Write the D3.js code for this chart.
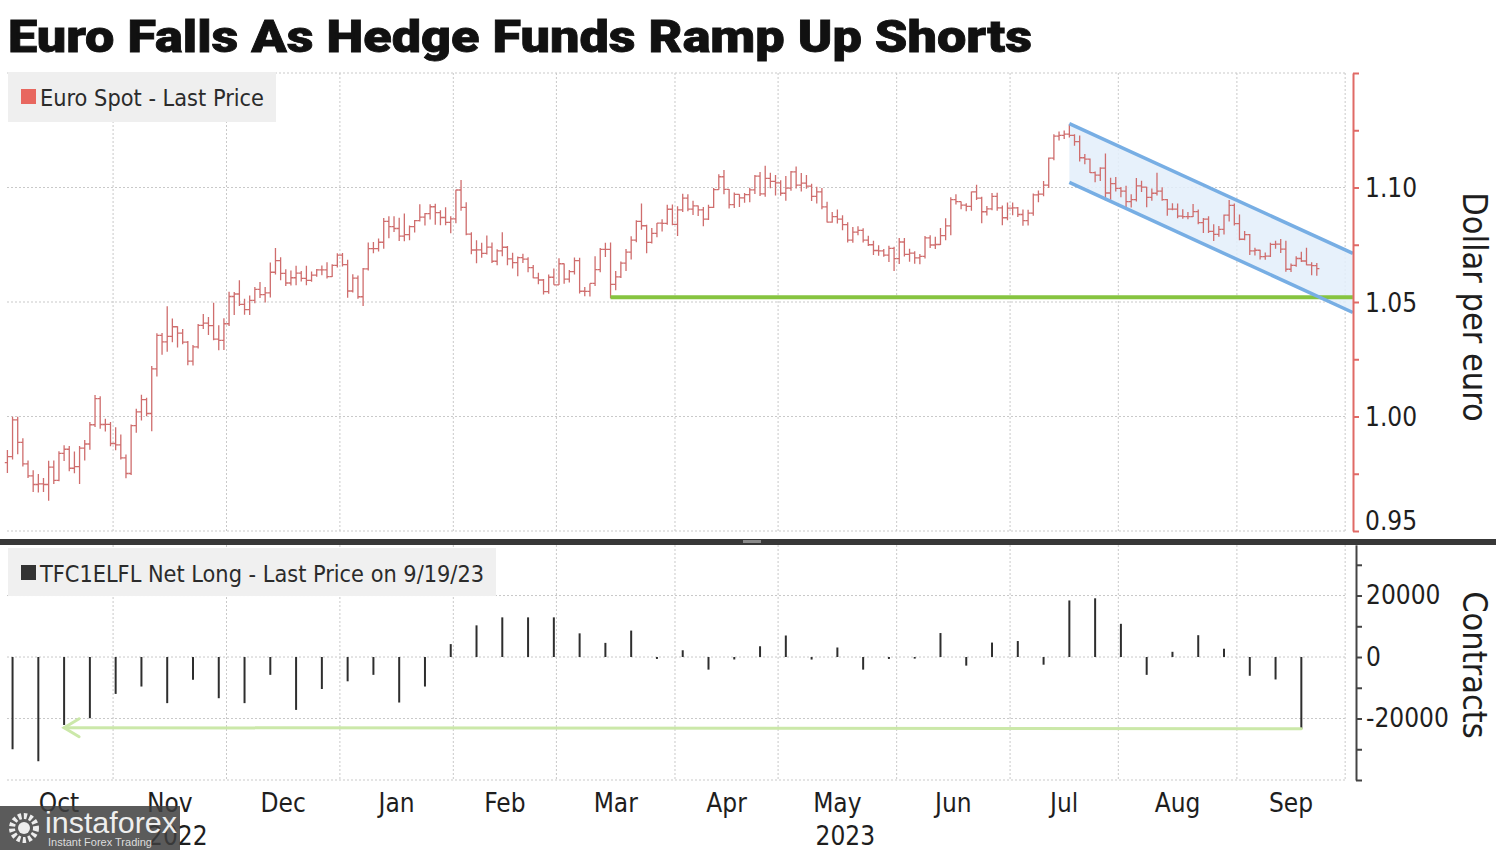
<!DOCTYPE html>
<html><head><meta charset="utf-8">
<script src="https://cdn.jsdelivr.net/npm/d3@7"></script>
<style>body{margin:0;background:#fff}svg{display:block}</style>
</head><body><svg id="c" width="1500" height="850"></svg>
<script>
// ---------------- DATA ----------------
const title = "Euro Falls As Hedge Funds Ramp Up Shorts";
const priceLegend = "Euro Spot - Last Price";
const posLegend = "TFC1ELFL Net Long - Last Price on 9/19/23";
const firstDate = "2022-10-03";   // first trading day (weekdays only)
const firstOpen = 0.9799;

// daily highs / lows / closes, Oct 3 2022 .. Sep 22 2023 (weekdays)
const highs = [
 0.9854,0.9999,0.9999,0.9905,0.9808,0.9765,0.9749,0.9731,0.9807,0.9808,0.9848,0.9875,0.9871,0.9847,0.9871,0.9897,0.9976,1.0094,1.0088,0.9990,0.9976,
 0.9953,0.9921,0.9834,0.9965,1.0034,1.0095,1.0082,1.0221,1.0364,1.0365,1.0481,1.0428,1.0394,1.0382,1.0330,1.0312,1.0404,1.0448,1.0434,1.0497,1.0399,1.0429,
 1.0545,1.0544,1.0595,1.0514,1.0528,1.0566,1.0587,1.0566,1.0673,1.0736,1.0695,1.0643,1.0638,1.0658,1.0635,1.0658,1.0633,1.0644,1.0659,1.0674,1.0665,1.0713,
 1.0714,1.0684,1.0621,1.0616,1.0649,1.0760,1.0762,1.0777,1.0867,1.0874,1.0874,1.0868,1.0887,1.0834,1.0858,1.0927,1.0889,1.0927,1.0929,1.0901,1.0914,1.0875,
 1.0990,1.1033,1.0936,1.0805,1.0770,1.0759,1.0790,1.0760,1.0730,1.0805,1.0744,1.0715,1.0699,1.0711,1.0695,1.0662,1.0628,1.0600,1.0620,1.0646,
 1.0691,1.0668,1.0640,1.0694,1.0693,1.0566,1.0581,1.0700,1.0736,1.0759,1.0760,1.0635,1.0677,1.0731,1.0787,1.0857,1.0930,1.0837,1.0823,1.0845,1.0861,1.0925,1.0926,
 1.0918,1.0973,1.0970,1.0942,1.0921,1.0915,1.0925,1.0998,1.1058,1.1076,1.0993,1.0978,1.0971,1.0976,1.0999,1.1055,1.1068,1.1095,1.1064,1.1055,
 1.1032,1.1050,1.1072,1.1092,1.1063,1.1055,1.1016,1.1003,1.0998,1.0938,1.0893,1.0904,1.0879,1.0848,1.0828,1.0831,1.0822,1.0789,1.0767,1.0748,1.0731,1.0746,1.0741,
 1.0779,1.0779,1.0732,1.0722,1.0710,1.0788,1.0791,1.0785,1.0823,1.0866,1.0957,1.0971,1.0939,1.0931,1.0983,1.1012,1.0960,1.0919,1.0976,1.0977,1.0921,1.0935,
 1.0934,1.0915,1.0904,1.0903,1.0974,1.0987,1.1028,1.1131,1.1232,1.1245,1.1249,1.1276,1.1232,1.1227,1.1146,1.1127,1.1070,1.1088,1.1149,1.1043,1.1046,
 1.1002,1.1008,1.0970,1.1042,1.1030,1.1003,1.0996,1.1064,1.1001,1.0950,1.0931,1.0930,1.0905,1.0893,1.0928,1.0904,1.0867,1.0875,1.0840,1.0832,1.0882,1.0945,1.0930,
 1.0882,1.0810,1.0797,1.0737,1.0728,1.0716,1.0759,1.0768,1.0775,1.0768,1.0668,1.0700,1.0719,1.0737,1.0674,1.0670
];
const lows = [
 0.9753,0.9812,0.9835,0.9782,0.9731,0.9670,0.9668,0.9670,0.9632,0.9705,0.9717,0.9806,0.9761,0.9752,0.9705,0.9808,0.9855,0.9954,0.9947,0.9935,0.9870,
 0.9853,0.9812,0.9730,0.9744,0.9929,0.9983,1.0001,0.9936,1.0175,1.0270,1.0283,1.0324,1.0301,1.0316,1.0224,1.0223,1.0297,1.0382,1.0356,1.0333,1.0289,1.0290,
 1.0395,1.0443,1.0483,1.0444,1.0443,1.0495,1.0517,1.0498,1.0520,1.0620,1.0595,1.0570,1.0572,1.0573,1.0589,1.0573,1.0588,1.0610,1.0617,1.0603,1.0609,1.0651,
 1.0655,1.0519,1.0542,1.0514,1.0483,1.0638,1.0713,1.0721,1.0733,1.0778,1.0806,1.0766,1.0765,1.0770,1.0804,1.0852,1.0834,1.0860,1.0837,1.0835,1.0835,1.0800,
 1.0844,1.0899,1.0792,1.0708,1.0669,1.0693,1.0707,1.0670,1.0660,1.0700,1.0660,1.0646,1.0612,1.0670,1.0630,1.0604,1.0577,1.0533,1.0536,1.0575,
 1.0574,1.0580,1.0585,1.0620,1.0537,1.0525,1.0524,1.0570,1.0630,1.0697,1.0516,1.0551,1.0605,1.0635,1.0686,1.0761,1.0816,1.0713,1.0755,1.0783,1.0808,1.0837,1.0835,
 1.0788,1.0893,1.0896,1.0880,1.0876,1.0831,1.0858,1.0911,1.0990,1.0971,1.0908,1.0910,1.0915,1.0933,1.0936,1.0972,1.0963,1.0960,1.0997,1.0965,
 1.0964,1.0942,1.0986,1.0996,1.0983,1.0994,1.0941,1.0930,1.0905,1.0847,1.0846,1.0843,1.0813,1.0760,1.0759,1.0792,1.0760,1.0745,1.0705,1.0702,1.0698,1.0675,1.0635,
 1.0666,1.0699,1.0676,1.0667,1.0665,1.0690,1.0736,1.0731,1.0749,1.0770,1.0791,1.0926,1.0905,1.0896,1.0898,1.0945,1.0844,1.0878,1.0901,1.0898,1.0835,1.0857,
 1.0879,1.0871,1.0833,1.0834,1.0877,1.0936,1.0962,1.0998,1.1119,1.1205,1.1212,1.1218,1.1182,1.1113,1.1101,1.1063,1.1023,1.1028,1.0944,1.0947,1.0982,
 1.0957,1.0912,1.0913,1.0939,1.0980,1.0914,1.0942,1.0965,1.0942,1.0877,1.0901,1.0866,1.0863,1.0861,1.0871,1.0840,1.0801,1.0801,1.0766,1.0785,1.0795,1.0851,1.0834,
 1.0770,1.0770,1.0705,1.0703,1.0686,1.0685,1.0697,1.0733,1.0714,1.0632,1.0631,1.0654,1.0675,1.0661,1.0617,1.0615
];
const closes = [
 0.9825,0.9985,0.9887,0.9793,0.9741,0.9703,0.9706,0.9703,0.9779,0.9721,0.9839,0.9857,0.9774,0.9781,0.9862,0.9880,0.9964,1.0078,0.9965,0.9966,0.9882,
 0.9876,0.9819,0.9751,0.9960,1.0020,1.0074,1.0013,1.0208,1.0354,1.0326,1.0350,1.0392,1.0364,1.0325,1.0242,1.0304,1.0398,1.0408,1.0397,1.0338,1.0332,1.0405,
 1.0524,1.0535,1.0490,1.0467,1.0507,1.0555,1.0532,1.0540,1.0630,1.0681,1.0625,1.0583,1.0606,1.0626,1.0603,1.0594,1.0617,1.0640,1.0640,1.0611,1.0660,1.0705,
 1.0663,1.0548,1.0604,1.0523,1.0645,1.0733,1.0733,1.0761,1.0852,1.0829,1.0821,1.0788,1.0794,1.0829,1.0855,1.0871,1.0886,1.0916,1.0890,1.0869,1.0848,1.0863,
 1.0989,1.0913,1.0796,1.0727,1.0728,1.0712,1.0740,1.0678,1.0723,1.0739,1.0688,1.0672,1.0694,1.0687,1.0650,1.0605,1.0596,1.0545,1.0608,1.0575,
 1.0667,1.0600,1.0633,1.0681,1.0547,1.0546,1.0581,1.0641,1.0730,1.0730,1.0577,1.0610,1.0670,1.0718,1.0770,1.0852,1.0833,1.0760,1.0800,1.0844,1.0843,1.0905,1.0839,
 1.0902,1.0954,1.0906,1.0920,1.0902,1.0862,1.0913,1.0991,1.1047,1.0992,1.0925,1.0970,1.0955,1.0969,1.0990,1.1050,1.0972,1.1040,1.1027,1.1020,
 1.0975,1.0997,1.1068,1.1010,1.1019,1.1006,1.0961,1.0981,1.0915,1.0849,1.0873,1.0862,1.0838,1.0770,1.0805,1.0813,1.0770,1.0750,1.0725,1.0723,1.0705,1.0734,1.0689,
 1.0762,1.0708,1.0713,1.0693,1.0699,1.0780,1.0749,1.0751,1.0790,1.0832,1.0947,1.0938,1.0923,1.0918,1.0981,1.0954,1.0894,1.0907,1.0961,1.0911,1.0868,1.0910,
 1.0911,1.0882,1.0855,1.0888,1.0968,1.0971,1.1010,1.1128,1.1224,1.1228,1.1233,1.1228,1.1200,1.1130,1.1124,1.1065,1.1054,1.1085,1.0976,1.1017,1.0996,
 1.0984,1.0938,1.0947,1.1007,1.1002,1.0957,1.0975,1.0984,1.0947,1.0906,1.0906,1.0875,1.0873,1.0873,1.0895,1.0847,1.0862,1.0808,1.0795,1.0817,1.0879,1.0922,1.0842,
 1.0774,1.0794,1.0723,1.0726,1.0698,1.0700,1.0752,1.0753,1.0731,1.0643,1.0660,1.0690,1.0679,1.0662,1.0659,1.0646
];

// weekly CFTC net long positions (contracts)
const posDates = [
 "2022-10-04","2022-10-11","2022-10-18","2022-10-25","2022-11-01","2022-11-08","2022-11-15","2022-11-22","2022-11-29",
 "2022-12-06","2022-12-13","2022-12-20","2022-12-27","2023-01-03","2023-01-10","2023-01-17","2023-01-24","2023-01-31",
 "2023-02-07","2023-02-14","2023-02-21","2023-02-28","2023-03-07","2023-03-14","2023-03-21","2023-03-28",
 "2023-04-04","2023-04-11","2023-04-18","2023-04-25","2023-05-02","2023-05-09","2023-05-16","2023-05-23","2023-05-30",
 "2023-06-06","2023-06-13","2023-06-20","2023-06-27","2023-07-04","2023-07-11","2023-07-18","2023-07-25",
 "2023-08-01","2023-08-08","2023-08-15","2023-08-22","2023-08-29","2023-09-05","2023-09-12","2023-09-19"
];
const netLong = [
 -30000,-33900,-22100,-19900,-12000,-9600,-15000,-7400,-13400,
 -15000,-5800,-17200,-10400,-7900,-5800,-14800,-9600,4200,
 10300,12900,12900,12900,7700,4600,8600,-300,
 2200,-4100,-800,3500,7000,-500,3100,-4100,-300,
 -200,7800,-2800,4700,5200,-2500,18400,19100,
 10800,-5800,1700,7100,2700,-6100,-7300,-23400
];

const monthLabels = ["Oct","Nov","Dec","Jan","Feb","Mar","Apr","May","Jun","Jul","Aug","Sep"];
const yearLabels = ["2022","2023"];
const yearUnder = ["Nov","May"];
const priceTicks = [0.95,1.00,1.05,1.10];
const priceMinorTicks = [0.975,1.025,1.075,1.125,1.15];
const posTicks = [-20000,0,20000];
const posMinorTicks = [-40000,-30000,-10000,10000,30000];

// annotations (date, value)
const supportLine = [["2023-03-15",1.0521],["2023-10-03",1.0521]];
const channelUpper = [["2023-07-18",1.1279],["2023-10-03",1.0712]];
const channelLower = [["2023-07-18",1.1022],["2023-10-03",1.0454]];
const arrowLine = [["2023-09-19",-23300],["2022-10-18",-23000]];

// ---------------- DRAW ----------------
const svg = d3.select("#c");
svg.append("rect").attr("width",1500).attr("height",850).attr("fill","#fff");
const fmt = d3.timeFormat("%Y-%m-%d");
const parse = d3.timeParse("%Y-%m-%d");

// trading-day calendar (weekdays), extended past the data for month grid
const calendar = [];
for (let d = parse(firstDate); calendar.length < 265; d = d3.timeDay.offset(d,1)) {
  const wd = d.getDay(); if (wd !== 0 && wd !== 6) calendar.push(d);
}
const idx = new Map(calendar.map((d,i)=>[fmt(d),i]));
const N = closes.length;

const x = d3.scaleLinear().domain([0,254]).range([7.4,1316.8]);
const yP = d3.scaleLinear().domain([0.95,1.15]).range([531,73]);
const yC = d3.scaleLinear().domain([-40000,36500]).range([780,544.8]);

// month boundaries
const monthStarts = [];
calendar.forEach((d,i)=>{ if (i===0 || d.getMonth()!==calendar[i-1].getMonth()) monthStarts.push(i); });
const bounds = monthStarts.slice(0,13).map(i=>x(i-0.5));
const plotL = 7, plotR = bounds[12];

const grid = svg.append("g").attr("stroke","#c9c9c9").attr("stroke-width",1).attr("stroke-dasharray","2,2").attr("fill","none");
// horizontal grid
[0.95,1.00,1.05,1.10,1.15].forEach(v=>grid.append("line").attr("x1",plotL).attr("x2",plotR).attr("y1",yP(v)).attr("y2",yP(v)));
[-40000,-20000,0,20000].forEach(v=>grid.append("line").attr("x1",plotL).attr("x2",plotR).attr("y1",yC(v)).attr("y2",yC(v)));
// vertical grid
bounds.slice(1).forEach(bx=>{
  grid.append("line").attr("x1",bx).attr("x2",bx).attr("y1",yP(1.15)).attr("y2",yP(0.95));
  grid.append("line").attr("x1",bx).attr("x2",bx).attr("y1",545).attr("y2",yC(-40000));
});

// channel fill
const pt = ([d,v],ys)=>[x(idx.get(d)), ys(v)];
const poly = [pt(channelUpper[0],yP),pt(channelUpper[1],yP),pt(channelLower[1],yP),pt(channelLower[0],yP)];
svg.append("polygon").attr("points",poly.map(p=>p.join(",")).join(" ")).attr("fill","#e3eefa").attr("opacity",0.85);

// OHLC bars
const bars = svg.append("g").attr("stroke","#cf6d6d").attr("stroke-width",1.3).attr("fill","none");
for (let i=0;i<N;i++){
  const o = i===0 ? firstOpen : closes[i-1];
  const xi = x(i);
  bars.append("path").attr("d",
    `M${xi},${yP(highs[i])}V${yP(lows[i])}M${xi-2.6},${yP(o)}H${xi}M${xi},${yP(closes[i])}H${xi+2.6}`);
}

// support line (green)
svg.append("line").attr("x1",pt(supportLine[0],yP)[0]).attr("y1",pt(supportLine[0],yP)[1])
  .attr("x2",pt(supportLine[1],yP)[0]).attr("y2",pt(supportLine[1],yP)[1])
  .attr("stroke","#86c440").attr("stroke-width",4);

// channel lines
[channelUpper,channelLower].forEach(l=>{
  svg.append("line").attr("x1",pt(l[0],yP)[0]).attr("y1",pt(l[0],yP)[1])
    .attr("x2",pt(l[1],yP)[0]).attr("y2",pt(l[1],yP)[1])
    .attr("stroke","#77aee4").attr("stroke-width",3.5);
});

// price axis (right, red)
const axP = svg.append("g").attr("transform","translate(1353,0)")
  .call(d3.axisRight(yP).tickValues(priceTicks.concat(priceMinorTicks)).tickSize(6).tickSizeOuter(0).tickPadding(6)
  .tickFormat(v=>priceTicks.includes(v)?d3.format(".2f")(v):""));
axP.select(".domain").attr("stroke","#e06a66").attr("stroke-width",2);
axP.selectAll(".tick line").attr("stroke","#e06a66").attr("stroke-width",2);
axP.selectAll(".tick text").attr("font-family","'DejaVu Sans Condensed','DejaVu Sans',sans-serif")
  .attr("font-size",26).attr("fill","#1e1e1e").attr("dy",v=>v===0.95?"-0.05em":"0.36em");

// separator
svg.append("rect").attr("x",0).attr("y",539).attr("width",1496).attr("height",6).attr("fill","#383838");
svg.append("rect").attr("x",743).attr("y",540).attr("width",18).attr("height",3).attr("fill","#8a8a8a");

// net-long bars
svg.append("g").selectAll("line").data(posDates).join("line")
  .attr("x1",d=>x(idx.get(d))).attr("x2",d=>x(idx.get(d)))
  .attr("y1",yC(0)).attr("y2",(d,i)=>yC(netLong[i]) + (Math.abs(netLong[i])<600 ? (netLong[i]<0?1:-1) : 0))
  .attr("stroke","#2e2e2e").attr("stroke-width",2);

// arrow (green) in lower panel
const a0 = pt(arrowLine[0],yC), a1 = pt(arrowLine[1],yC);
const arrowG = svg.append("g").attr("stroke","#cbe8a9").attr("stroke-width",3).attr("fill","none").attr("stroke-linecap","round");
arrowG.append("line").attr("x1",a0[0]).attr("y1",a0[1]).attr("x2",a1[0]).attr("y2",a1[1]);
arrowG.append("path").attr("d",`M${a1[0]+15},${a1[1]-9}L${a1[0]},${a1[1]}L${a1[0]+15},${a1[1]+9}`);

// contracts axis
const axC = svg.append("g").attr("transform","translate(1356,0)")
  .call(d3.axisRight(yC).tickValues(posTicks.concat(posMinorTicks)).tickSize(6).tickSizeOuter(0).tickPadding(4)
  .tickFormat(v=>posTicks.includes(v)?String(v):""));
axC.select(".domain").attr("stroke","#444").attr("stroke-width",2);
axC.selectAll(".tick line").attr("stroke","#444").attr("stroke-width",2);
axC.selectAll(".tick text").attr("font-family","'DejaVu Sans Condensed','DejaVu Sans',sans-serif")
  .attr("font-size",26).attr("fill","#1e1e1e");

// axis titles
svg.append("text").attr("transform","translate(1463,307) rotate(90)").attr("text-anchor","middle")
  .attr("font-family","'DejaVu Sans Condensed','DejaVu Sans',sans-serif").attr("font-size",34).attr("fill","#1e1e1e")
  .text("Dollar per euro");
svg.append("text").attr("transform","translate(1463,665) rotate(90)").attr("text-anchor","middle")
  .attr("font-family","'DejaVu Sans Condensed','DejaVu Sans',sans-serif").attr("font-size",34).attr("fill","#1e1e1e")
  .text("Contracts");

// legends
svg.append("rect").attr("x",8).attr("y",72).attr("width",268).attr("height",50).attr("fill","#efefef");
svg.append("rect").attr("x",21).attr("y",89).attr("width",15).attr("height",15).attr("fill","#e8675f");
svg.append("text").attr("x",40).attr("y",106).attr("font-family","'DejaVu Sans Condensed','DejaVu Sans',sans-serif")
  .attr("font-size",23).attr("fill","#2b2b2b").attr("textLength",224).attr("lengthAdjust","spacingAndGlyphs").text(priceLegend);
svg.append("rect").attr("x",8).attr("y",548).attr("width",488).attr("height",48).attr("fill","#f0f0f0");
svg.append("rect").attr("x",21).attr("y",565).attr("width",15).attr("height",15).attr("fill","#333");
svg.append("text").attr("x",40).attr("y",582).attr("font-family","'DejaVu Sans Condensed','DejaVu Sans',sans-serif")
  .attr("font-size",23).attr("fill","#2b2b2b").attr("textLength",444).attr("lengthAdjust","spacingAndGlyphs").text(posLegend);

// month labels
const labG = svg.append("g").attr("font-family","'DejaVu Sans Condensed','DejaVu Sans',sans-serif").attr("font-size",26)
  .attr("fill","#1e1e1e").attr("text-anchor","middle");
monthLabels.forEach((m,k)=>labG.append("text").attr("x",(bounds[k]+bounds[k+1])/2).attr("y",812).text(m));
yearLabels.forEach((yl,k)=>{
  const mk = monthLabels.indexOf(yearUnder[k]);
  labG.append("text").attr("x",(bounds[mk]+bounds[mk+1])/2+8).attr("y",845).text(yl);
});

// title
svg.append("text").attr("x",8).attr("y",52).attr("font-family","Roboto,'Liberation Sans',sans-serif")
  .attr("font-weight",900).attr("font-size",45).attr("fill","#111").attr("stroke","#111").attr("stroke-width",0.8)
  .attr("textLength",1024).attr("lengthAdjust","spacingAndGlyphs").text(title);

// watermark overlay
const wm = svg.append("g");
wm.append("rect").attr("x",0).attr("y",806).attr("width",180).attr("height",44).attr("fill","#3e3e3e").attr("opacity",0.85);
wm.append("circle").attr("cx",24).attr("cy",828).attr("r",12).attr("fill","none").attr("stroke","#eee")
  .attr("stroke-width",6).attr("stroke-dasharray","3.2,2.4");
wm.append("circle").attr("cx",24).attr("cy",828).attr("r",6).attr("fill","#eee");
wm.append("text").attr("x",45).attr("y",833).attr("font-family","'Liberation Sans',sans-serif").attr("font-size",30)
  .attr("fill","#eeeeee").attr("textLength",132).attr("lengthAdjust","spacingAndGlyphs").text("instaforex");
wm.append("text").attr("x",48).attr("y",846).attr("font-family","'Liberation Sans',sans-serif").attr("font-size",11)
  .attr("fill","#dddddd").text("Instant Forex Trading");
</script></body></html>
